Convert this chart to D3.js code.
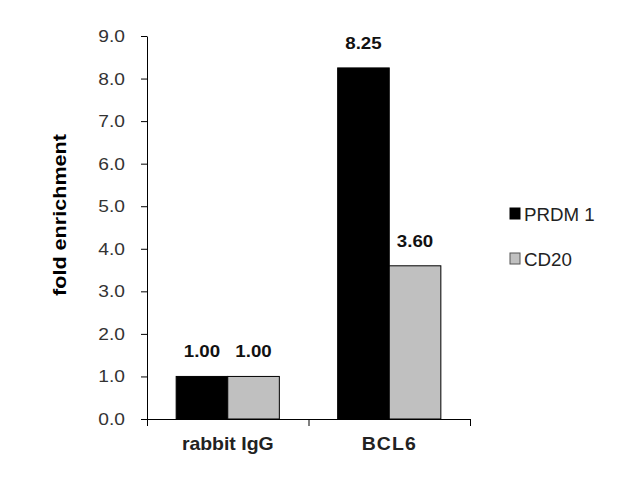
<!DOCTYPE html>
<html lang='en'>
<head>
    <meta charset='utf-8'>
    <title>fold enrichment</title>
    <script src="https://d3js.org/d3.v7.min.js"></script>
    <style>
        body { margin: 0; background: white; }
        text { font-family: "Liberation Sans", Arial, sans-serif; }
    </style>
</head>
<body>
    <div id='chart'></div>
    <script>
        // data
        const categories = ["rabbit IgG", "BCL6"];
        const seriesNames = ["PRDM 1", "CD20"];
        const prdm1Values = [1.00, 8.25];
        const cd20Values = [1.00, 3.60];
        const yTicks = [0, 1, 2, 3, 4, 5, 6, 7, 8, 9];

        const colors = {"PRDM 1": "#000000", "CD20": "#c0c0c0"};
        const seriesValues = {"PRDM 1": prdm1Values, "CD20": cd20Values};

        let size = {width: 630, height: 480};
        let plot = {left: 147, right: 470, top: 36, bottom: 419};

        let svg = d3.select("#chart")
                    .append("svg")
                        .attr("width", size.width)
                        .attr("height", size.height);

        let y = d3.scaleLinear()
                  .domain([0, 9])
                  .range([plot.bottom, plot.top]);

        let x = d3.scaleBand()
                  .domain(categories)
                  .range([plot.left, plot.right])
                  .padding(0);

        let xInner = d3.scaleBand()
                  .domain(seriesNames)
                  .range([0, x.bandwidth()])
                  .paddingInner(0)
                  .paddingOuter(0.565);

        //bars
        let groups = svg.append("g")
            .selectAll("g")
            .data(categories)
            .enter()
            .append("g")
                .attr("transform", d => `translate(${x(d)},0)`);

        groups.selectAll("rect")
            .data((c, i) => seriesNames.map(s => ({series: s, value: seriesValues[s][i]})))
            .enter()
            .append("rect")
                .attr("x", d => xInner(d.series))
                .attr("y", d => y(d.value))
                .attr("width", xInner.bandwidth())
                .attr("height", d => y(0) - y(d.value))
                .attr("fill", d => colors[d.series])
                .attr("stroke", "#000")
                .attr("stroke-width", 1);

        groups.selectAll("text")
            .data((c, i) => seriesNames.map(s => ({series: s, value: seriesValues[s][i]})))
            .enter()
            .append("text")
                .attr("transform", d => `translate(${xInner(d.series) + xInner.bandwidth() / 2},${y(d.value) - 19}) scale(1.1,1)`)
                .attr("text-anchor", "middle")
                .style("font-size", "17px")
                .style("font-weight", "bold")
                .attr("fill", "#111")
                .text(d => d.value.toFixed(2));

        //y axis
        let yAxis = svg.append("g")
            .attr("transform", `translate(${plot.left},0)`)
            .call(d3.axisLeft(y).tickValues(yTicks).tickFormat(d3.format(".1f")).tickSize(6).tickSizeOuter(0));

        yAxis.select(".domain").attr("stroke", "#000");
        yAxis.selectAll("line").attr("stroke", "#000");
        yAxis.selectAll("text")
            .attr("x", -22 / 1.13)
            .attr("transform", "scale(1.13,1)")
            .attr("fill", "#333")
            .style("font-size", "17px")
            .style("font-family", "'Liberation Sans', Arial, sans-serif");

        //x axis
        let xEdges = d3.scaleLinear().domain([0, categories.length]).range([plot.left, plot.right]);
        let xAxis = svg.append("g")
            .attr("transform", `translate(0,${plot.bottom})`)
            .call(d3.axisBottom(xEdges).tickValues(d3.range(categories.length + 1)).tickFormat("").tickSize(7).tickSizeOuter(0));
        xAxis.select(".domain").attr("stroke", "#000");
        xAxis.selectAll("line").attr("stroke", "#000");

        svg.append("g")
            .selectAll("text")
            .data(categories)
            .enter()
            .append("text")
                .attr("transform", d => `translate(${x(d) + x.bandwidth() / 2},450) scale(1.08,1)`)
                .attr("text-anchor", "middle")
                .style("font-size", "18px")
                .style("font-weight", "bold")
                .style("letter-spacing", d => d === "BCL6" ? "1px" : "0px")
                .attr("fill", "#222")
                .text(d => d);

        //y label
        svg.append("text")
            .attr("transform", "translate(66,215) rotate(-90) scale(1.2,1)")
            .attr("text-anchor", "middle")
            .style("font-size", "18px")
            .style("font-weight", "bold")
            .attr("fill", "#000")
            .text("fold enrichment");

        //legend
        let legend = svg.append("g");
        seriesNames.forEach((name, i) => {
            legend.append("rect")
                .attr("x", 510)
                .attr("y", 208 + i * 45)
                .attr("width", 10)
                .attr("height", 11)
                .attr("fill", colors[name])
                .attr("stroke", i === 0 ? "#000" : "#555")
                .attr("stroke-width", 1);
            legend.append("text")
                .attr("transform", `translate(524,${221 + i * 45}) scale(1.04,1)`)
                .style("font-size", "18px")
                .attr("fill", "#222")
                .text(name);
        });
    </script>
</body>
</html>
